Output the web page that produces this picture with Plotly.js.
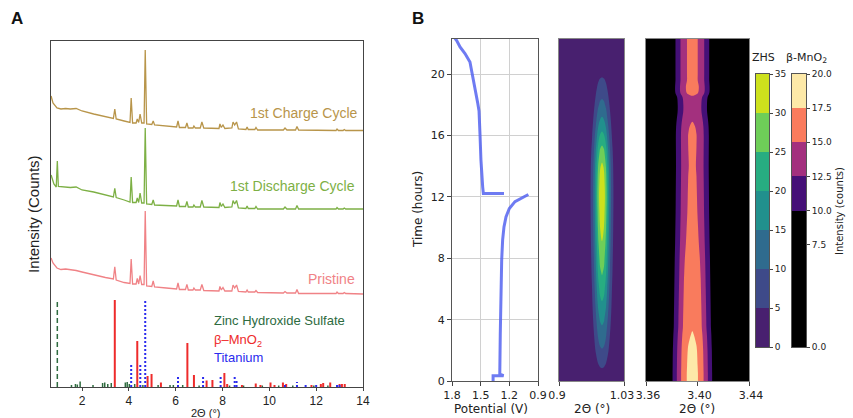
<!DOCTYPE html>
<html><head><meta charset="utf-8">
<script src="https://cdn.plot.ly/plotly-3.0.1.min.js"></script>
<style>html,body{margin:0;padding:0;background:#fff;}#chart{width:853px;height:418px;}</style>
</head><body><div id="chart"></div>
<script>
// ---------------- Panel A data (2θ in degrees, intensity in arbitrary counts incl. offsets) ----------------
const specX = [0.68,0.76,0.93,1.10,1.30,1.50,1.75,2.00,2.50,3.00,3.34,3.40,3.46,3.80,4.05,4.10,4.16,4.31,4.36,4.42,4.48,4.55,4.65,4.70,4.76,4.98,5.04,5.10,5.60,6.04,6.10,6.16,6.42,6.48,6.54,6.74,6.78,6.84,7.05,7.12,7.20,7.60,7.85,7.89,7.95,8.02,8.10,8.40,8.45,8.52,8.60,8.68,9.00,9.05,9.10,9.38,9.43,9.50,10.60,10.67,10.75,11.12,11.18,11.25,12.85,12.89,12.95,13.15,13.20,13.26,14.00];
const chargeY = [291,284,279,278,278.5,278,278.5,276,273,270,268.5,278,268,266,264.5,289,264,264,268,264.5,273,264,264,337,263,262.5,266,262,261,260,266,259.5,259.5,264,259,259,261,259,259,265,259,258.5,258.5,263,259.5,262,258.5,259,265,262,265,258,257.5,260,257.5,257.5,259.5,257,257,259,257,257,260.5,257,256.5,258,256.5,256.5,257.5,256.5,256.5];
const dischargeX = [0.68,0.80,0.90,0.946,0.99,1.20,1.50,1.75,2.00,2.50,3.00,3.34,3.40,3.46,3.80,4.05,4.10,4.16,4.31,4.36,4.42,4.48,4.55,4.65,4.70,4.76,4.98,5.04,5.10,5.60,6.04,6.10,6.16,6.42,6.48,6.54,6.74,6.78,6.84,7.05,7.12,7.20,7.60,7.85,7.89,7.95,8.02,8.10,8.40,8.45,8.52,8.60,8.68,9.00,9.05,9.10,9.38,9.43,9.50,10.60,10.67,10.75,11.12,11.18,11.25,12.85,12.89,12.95,13.15,13.20,13.26,14.00];
const dischargeY = [212,203,200,226,200.5,200,199.5,200,197,195,192,190,198.7,189.5,187,185,210,184.5,184.5,189,184.5,194,184,184,259,183,182.5,187,182,181.5,181,187,180.5,180.5,185.5,180,180,182,180,180,186.5,180,179.5,179.5,184.5,180.5,183,179.5,180,186.5,183,186.5,179,178.5,181,178.5,178.5,180.5,178,178,180,178,178,181.5,178,178,179.5,178,178,179,178,178];
const pristineY = [129,124,119,117.5,118,117.5,116.5,115,112,109.5,108,120.3,107,104.5,103.5,128,103,103,108.7,103,111.3,102.5,102.5,176,101,100.5,106,100,99,98,104,97.5,97.5,102.7,97,97,99,97,97,102.5,96.5,96,96,100.5,97,99.5,96,96,102,99,102,95.5,95,97,95,95,96.5,94.5,94,95.5,94,94,97.5,93.5,93.5,95,93.5,93.5,94.5,93.5,93];

// reference patterns (stick positions and heights)
const zhsMainPos = [0.946];
const zhsMainH = [87];
const zhsMinorPos = [1.55,1.72,1.80,1.92,2.47,2.88,2.97,3.10,3.25,3.85,3.93,4.02,4.25,4.60,5.25,5.76,5.90,6.30,7.00,8.30,8.90,9.70,10.40,11.00,11.90,12.50];
const zhsMinorH = [2,3,2.5,5.5,2,4,4.5,3,4,4.5,5,3,3,2,2,2,2,2,1.5,1.5,1.5,1.5,1.5,1.5,1.5,1.5];
const mnPos = [3.40,4.36,4.80,4.97,5.37,6.50,6.78,7.32,7.57,8.08,8.20,8.83,9.42,9.62,10.05,10.22,10.58,10.72,11.80,12.20,12.30,12.60,13.00,13.10,13.22];
const mnH = [87,46,11,13,4.5,44,12,6.5,7,14,3,2,3.5,2,4.5,2,4.5,3,2,3,4,4.5,3,3,3];
const tiPos = [4.10,4.49,4.70,6.10,7.17,7.92,8.52,8.60,10.67,11.18,11.55,12.00,12.89,13.00];
const tiH = [23,23,87,11,11,10.5,10.5,7,3,5,3,2,4,3];

// ---------------- Panel B data ----------------
const potV = [1.37,1.37,1.26,1.30,1.295,1.29,1.28,1.27,1.256,1.235,1.20,1.141,1.071,1.001,null,1.256,1.472,1.479,1.490,1.497,1.507,1.517,1.530,1.542,1.570,1.594,1.612,1.664,1.716,1.751,1.769];
const potT = [0.0,0.35,0.35,0.45,3.0,5.3,7.9,9.2,10.05,10.7,11.25,11.7,11.95,12.16,null,12.23,12.23,12.66,13.5,14.4,16.1,17.6,18.1,18.5,19.17,20.15,20.8,21.35,21.78,22.2,22.35];

// ZHS peak (2θ ≈ 0.986°): intensity along time at the peak centre, and relative profile across 2θ
const zhsX = [0.900,0.956,0.962,0.966,0.970,0.974,0.978,0.982,0.986,0.990,0.994,0.998,1.002,1.006,1.010,1.016,1.030];
const zhsProfile = [0,0.03,0.12,0.22,0.38,0.58,0.80,0.95,1,0.95,0.80,0.58,0.38,0.22,0.12,0.03,0];
const zhsT = [0,1,2,3,4,5,6,7,8,9,10,11,12,13,14,15,16,17,18,19,20,21,22,22.3];
const zhsPeak = [2,5.6,9.6,13,16.2,19.4,22.4,25.3,27.5,29.8,31.5,33,34,33,31,27,21.5,16,11.5,7.7,4.3,2.5,1.5,1.2];

// β-MnO2 peak (2θ ≈ 3.396°)
const mnX = [3.360,3.369,3.3765,3.381,3.3855,3.3895,3.3928,3.396,3.3992,3.4025,3.4065,3.411,3.4155,3.423,3.440];
const mnProfile = [0,0.18,0.38,0.555,0.74,0.90,0.97,1,0.97,0.90,0.74,0.555,0.38,0.18,0];
const mnT = [0,0.5,1,2,3,3.5,4,5,6,7,8,9,10,11,12,13,14,15,16,16.6,17.1,17.5,18,18.5,18.8,19.2,19.6,20,21,22,22.3];
const mnPeak = [18.5,18.5,18.4,18.2,17.7,17.3,17.2,17.0,16.8,16.6,16.4,16.1,15.9,15.7,15.6,15.5,15.4,15.45,15.5,15.3,14.8,14.3,14.2,14.6,15.9,16.1,15.8,15.8,15.8,15.8,15.8];

// colour levels
const zhsLevels = [0,5,10,15,20,25,30,35];
const zhsColors = ['#48206f','#3e4a89','#2f6b8e','#21908d','#27ad81','#6ece58','#cde11d'];
const mnLevels = [0,10,12.5,15,17.5,20];
const mnColors = ['#000000','#451077','#a3307e','#f97b5d','#fde9a8'];
const mnTicks = [0,7.5,10,12.5,15,17.5,20];

// ---------------- helpers ----------------
const W = 853, H = 418;
const dX = (a,b) => [a/W, b/W];
const dY = (top,bot) => [1-bot/H, 1-top/H];
function sticks(pos, h){ const xs=[], ys=[]; pos.forEach((p,i)=>{xs.push(p,p,null); ys.push(0,h[i],null);}); return {x:xs,y:ys}; }
function table(peak, prof){ return peak.map(p => prof.map(q => p*q)); }
function stepScale(colors){ const n=colors.length-1, s=[]; colors.forEach((c,k)=>{ s.push([k===0?0:(k-0.5)/n, c]); s.push([k===n?1:(k+0.5)/n, c]); }); return s; }

const fA = 'Liberation Sans, Arial, sans-serif';
const fB = 'DejaVu Sans, sans-serif';

const zm = sticks(zhsMainPos, zhsMainH), zn = sticks(zhsMinorPos, zhsMinorH), ms = sticks(mnPos, mnH), ts = sticks(tiPos, tiH);

const traces = [
  {type:'scatter', mode:'lines', x:specX, y:chargeY, line:{color:'#b8954a', width:1.3}, xaxis:'x', yaxis:'y', hoverinfo:'skip'},
  {type:'scatter', mode:'lines', x:dischargeX, y:dischargeY, line:{color:'#7db045', width:1.3}, xaxis:'x', yaxis:'y', hoverinfo:'skip'},
  {type:'scatter', mode:'lines', x:specX, y:pristineY, line:{color:'#f08286', width:1.3}, xaxis:'x', yaxis:'y', hoverinfo:'skip'},
  {type:'scatter', mode:'lines', x:zn.x, y:zn.y, line:{color:'#2e6b3f', width:1.5}, xaxis:'x', yaxis:'y', hoverinfo:'skip'},
  {type:'scatter', mode:'lines', x:zm.x, y:zm.y, line:{color:'#2e6b3f', width:1.5, dash:'5px,3px'}, xaxis:'x', yaxis:'y', hoverinfo:'skip'},
  {type:'scatter', mode:'lines', x:ms.x, y:ms.y, line:{color:'#ee2b2b', width:2}, xaxis:'x', yaxis:'y', hoverinfo:'skip'},
  {type:'scatter', mode:'lines', x:ts.x, y:ts.y, line:{color:'#2b2bee', width:2, dash:'2px,2px'}, xaxis:'x', yaxis:'y', hoverinfo:'skip'},
  {type:'scatter', mode:'lines', x:potV, y:potT, line:{color:'rgba(85,100,240,0.85)', width:3}, xaxis:'x2', yaxis:'y2', hoverinfo:'skip', connectgaps:false},
  {type:'contour', x:zhsX, y:zhsT, z:table(zhsPeak, zhsProfile), xaxis:'x3', yaxis:'y3', showscale:false, hoverinfo:'skip',
    contours:{coloring:'fill', start:zhsLevels[1], end:zhsLevels[zhsLevels.length-2], size:zhsLevels[1]-zhsLevels[0], showlines:false},
    line:{width:0, smoothing:1}, colorscale:stepScale(zhsColors)},
  {type:'contour', x:mnX, y:mnT, z:table(mnPeak, mnProfile), xaxis:'x4', yaxis:'y4', showscale:false, hoverinfo:'skip',
    contours:{coloring:'fill', start:mnLevels[1], end:mnLevels[mnLevels.length-2], size:mnLevels[2]-mnLevels[1], showlines:false},
    line:{width:0, smoothing:1}, colorscale:stepScale(mnColors)},
  {type:'heatmap', x:[0,1], y:zhsLevels, z:zhsColors.map((c,i)=>[i]), zmin:0, zmax:zhsColors.length-1, colorscale:stepScale(zhsColors), showscale:false, xaxis:'x5', yaxis:'y5', hoverinfo:'skip'},
  {type:'heatmap', x:[0,1], y:mnLevels, z:mnColors.map((c,i)=>[i]), zmin:0, zmax:mnColors.length-1, colorscale:stepScale(mnColors), showscale:false, xaxis:'x6', yaxis:'y6', hoverinfo:'skip'}
];

const boxAx = {showline:true, mirror:true, linecolor:'#555', linewidth:1, zeroline:false, showgrid:false, ticks:'outside', ticklen:4, tickcolor:'#444', tickwidth:1};
const tfB = {family:fB, size:11, color:'#222'};
const layout = {
  width:W, height:H, margin:{l:0,r:0,t:0,b:0}, paper_bgcolor:'#fff', plot_bgcolor:'#fff', showlegend:false,
  xaxis: Object.assign({}, boxAx, {domain:dX(51,363), range:[0.676,14], tickvals:[2,4,6,8,10,12,14], ticklen:3, tickfont:{family:fA,size:12,color:'#222'}, anchor:'y', linecolor:'#444'}),
  yaxis: Object.assign({}, boxAx, {domain:dY(41,387), range:[0,346], ticks:'', showticklabels:false, anchor:'x', linecolor:'#444'}),
  xaxis2: Object.assign({}, boxAx, {domain:dX(452,538), range:[1.8,0.9], tickvals:[1.8,1.5,1.2,0.9], ticktext:['1.8','1.5','1.2','0.9'], showgrid:true, gridcolor:'#d0d0d0', tickfont:tfB, anchor:'y2'}),
  yaxis2: Object.assign({}, boxAx, {domain:dY(39,381), range:[0,22.3], tickvals:[0,4,8,12,16,20], showgrid:true, gridcolor:'#d0d0d0', tickfont:tfB, anchor:'x2'}),
  xaxis3: Object.assign({}, boxAx, {domain:dX(559,624), range:[0.9,1.03], tickvals:[0.9,1.03], ticktext:['0.9','1.03'], ticklabelshift:-2, tickfont:tfB, anchor:'y3', linecolor:'#888'}),
  yaxis3: Object.assign({}, boxAx, {domain:dY(39,381), range:[0,22.3], ticks:'', showticklabels:false, anchor:'x3', linecolor:'#888'}),
  xaxis4: Object.assign({}, boxAx, {domain:dX(646,749), range:[3.36,3.44], tickvals:[3.36,3.40,3.44], ticktext:['3.36','3.40','3.44'], ticklabelshift:2, tickfont:tfB, anchor:'y4', linecolor:'#888'}),
  yaxis4: Object.assign({}, boxAx, {domain:dY(39,381), range:[0,22.3], ticks:'', showticklabels:false, anchor:'x4', linecolor:'#888'}),
  xaxis5: Object.assign({}, boxAx, {domain:dX(756,769), range:[0,1], ticks:'', showticklabels:false, anchor:'y5'}),
  yaxis5: Object.assign({}, boxAx, {domain:dY(74,347), range:[0,35], side:'right', tickvals:zhsLevels, ticklen:3, tickfont:{family:fB,size:9,color:'#222'}, anchor:'x5'}),
  xaxis6: Object.assign({}, boxAx, {domain:dX(792,806), range:[0,1], ticks:'', showticklabels:false, anchor:'y6'}),
  yaxis6: Object.assign({}, boxAx, {domain:dY(74,347), range:[0,20], side:'right', tickvals:mnTicks, ticktext:mnTicks.map(v=>v.toFixed(1)), ticklen:3, tickfont:{family:fB,size:9,color:'#222'}, anchor:'x6'}),
  annotations: []
};
function ann(text, px, py, o){ layout.annotations.push(Object.assign({text:text, x:px/W, y:1-py/H, xref:'paper', yref:'paper', showarrow:false, xanchor:'center', yanchor:'middle'}, o||{})); }
ann('<b>A</b>', 17, 19, {font:{family:fA,size:17,color:'#111'}});
ann('<b>B</b>', 418, 19, {font:{family:fA,size:17,color:'#111'}});
ann('Intensity (Counts)', 33, 214, {textangle:-90, font:{family:fA,size:15,color:'#222'}});
ann('2Θ (°)', 205, 413, {font:{family:fA,size:11,color:'#222'}});
ann('1st Charge Cycle', 360, 113, {xanchor:'right', font:{family:fA,size:14,color:'#b8954a'}});
ann('1st Discharge Cycle', 357, 186, {xanchor:'right', font:{family:fA,size:14,color:'#7db045'}});
ann('Pristine', 357, 279, {xanchor:'right', font:{family:fA,size:14,color:'#f08286'}});
ann('Zinc Hydroxide Sulfate', 212, 320, {xanchor:'left', font:{family:fA,size:13,color:'#2e6b3f'}});
ann('β–MnO<sub>2</sub>', 212, 340, {xanchor:'left', font:{family:fA,size:13,color:'#ee2b2b'}});
ann('Titanium', 212, 357, {xanchor:'left', font:{family:fA,size:13,color:'#2b2bee'}});
ann('Time (hours)', 418, 210, {textangle:-90, font:{family:fB,size:12,color:'#222'}});
ann('Potential (V)', 491, 409, {font:{family:fB,size:12,color:'#222'}});
ann('2Θ (°)', 592, 409, {font:{family:fB,size:12,color:'#222'}});
ann('2Θ (°)', 697, 409, {font:{family:fB,size:12,color:'#222'}});
ann('ZHS', 763, 58, {font:{family:fB,size:11,color:'#222'}});
ann('β-MnO<sub>2</sub>', 806, 58, {font:{family:fB,size:11,color:'#222'}});
ann('Intensity (counts)', 839, 211, {textangle:-90, font:{family:fB,size:10,color:'#222'}});

Plotly.newPlot('chart', traces, layout, {displayModeBar:false, staticPlot:true});
</script>
</body></html>
